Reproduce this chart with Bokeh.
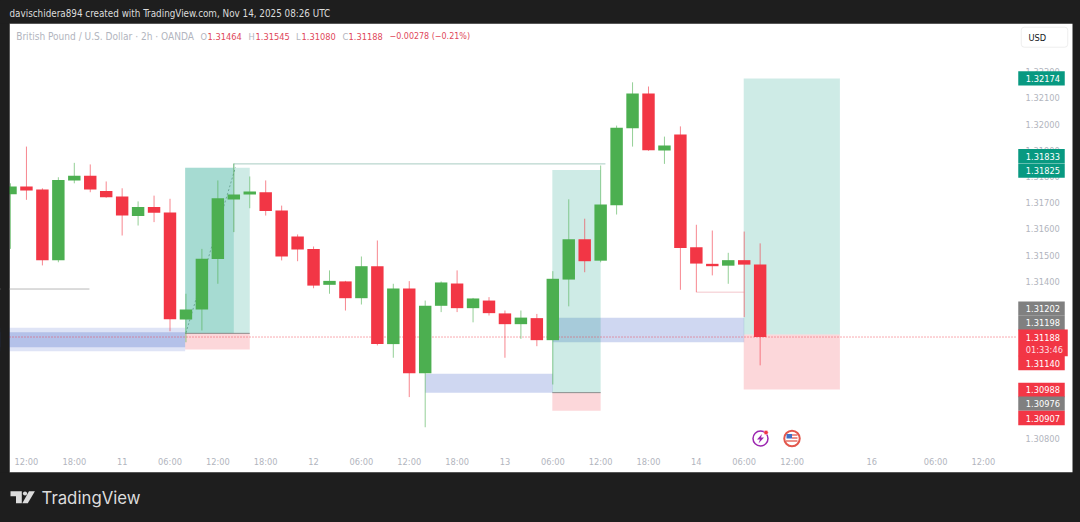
from bokeh.plotting import figure
from bokeh.embed import file_html
from bokeh.resources import INLINE
from bokeh.core.properties import value
from bokeh.models import ColumnDataSource, LinearAxis, FixedTicker, NumeralTickFormatter, Range1d

# ---- candle data (prices in 1e-5 units)
opens  = [131732,131762,131750,131481,131785,131803,131745,131724,131649,131684,131663,131255,131293,131485,131712,131731,131740,131670,131571,131524,131387,131400,131336,131458,131161,131373,131050,131307,131392,131298,131327,131278,131237,131260,131176,131407,131561,131479,131690,131984,132116,131899,131960,131530,131467,131460,131481,131464]
highs  = [131774,131914,131755,131797,131852,131846,131781,131755,131705,131727,131715,131353,131524,131785,131850,131800,131785,131689,131579,131533,131442,131402,131495,131556,131391,131401,131327,131400,131442,131337,131340,131289,131289,131276,131439,131713,131639,131842,131994,132159,132143,131952,131991,131616,131594,131509,131590,131545]
lows   = [131524,131711,131461,131473,131774,131740,131719,131575,131613,131626,131210,131168,131213,131391,131588,131679,131651,131480,131477,131374,131353,131289,131312,131156,131109,130959,130844,131283,131283,131244,131270,131109,131181,131153,131007,131305,131435,131473,131655,131914,131898,131848,131368,131359,131423,131391,131264,131080]
closes = [131762,131747,131481,131787,131803,131750,131721,131651,131684,131662,131256,131293,131486,131717,131731,131743,131668,131495,131522,131384,131402,131336,131458,131161,131373,131050,131307,131396,131298,131335,131279,131237,131262,131176,131410,131561,131477,131693,131986,132116,131900,131918,131527,131468,131458,131481,131464,131188]

# ---- trade boxes: start bar, end bar, prices
green_boxes = [(10.95, 14, 1.31833, 1.31202), (10.95, 15, 1.31833, 1.31202), (33.97, 37, 1.31825, 1.30976), (45.97, 52, 1.32174, 1.31198)]
red_boxes   = [(10.95, 15, 1.31202, 1.31140), (33.97, 37, 1.30976, 1.30907), (45.97, 52, 1.31198, 1.30988)]
blue_zones  = [(-1, 10.95, 1.31223, 1.31134, 0.16), (-1, 10.95, 1.31206, 1.31149, 0.25), (26, 34, 1.31048, 1.30976, 0.24), (34, 46, 1.31261, 1.31168, 0.24)]
last_price = 1.31188

# ---- axes
price_ticks = [1.322, 1.321, 1.320, 1.319, 1.318, 1.317, 1.316, 1.315, 1.314, 1.308]
time_pos    = [1, 4, 7, 10, 13, 16, 19, 22, 25, 28, 31, 34, 37, 40, 43, 46, 49, 54, 58, 61]
time_labels = ["12:00","18:00","11","06:00","12:00","18:00","12","06:00","12:00","18:00","13","06:00","12:00","18:00","14","06:00","12:00","16","06:00","12:00"]

# ---- price flags on the axis
flag_labels = ["1.32174","1.31833","1.31825","1.31202","1.31198","1.31140","1.30988","1.30976","1.30907"]
flag_kinds  = ["g","g","g","n","n","r","r","n","r"]
flag_shift  = [0, -11.8, 0.6, -24.8, -11.4, 13.4, 0.5, 10.9, 7.3]   # px nudges that keep flags apart

GREEN, RED, GREY, TEAL, BLUE = "#4CAF50", "#F23645", "#808080", "#089981", "#3557c4"
DARK = "#1e1e1e"
AXIS_TXT = "#b2b5be"
FONT = "DejaVu Sans Condensed"
FS = "9.2px"

BAR_PX, BAR0_PX = 15.95, 10.0
PX_PER_PRICE = 26230.0
def X(px): return (px - BAR0_PX) / BAR_PX
def Y(py): return 1.32100 - (py - 97.3) / PX_PER_PRICE

p = figure(width=1080, height=522, output_backend="svg", toolbar_location=None,
           x_range=Range1d(X(0), X(1080)), y_range=Range1d(Y(522), Y(0)),
           x_axis_location=None, y_axis_location=None, tools="",
           min_border_left=0, min_border_right=0, min_border_top=0, min_border_bottom=0,
           background_fill_color=DARK, border_fill_color=DARK)
p.outline_line_color = None
p.grid.visible = False

# white chart pane
r = p.quad(left=[X(9)], right=[X(1072)], top=[Y(23.3)], bottom=[Y(471.7)], fill_color="white", line_color=None)
r.level = "underlay"

# axes
xa = LinearAxis(ticker=FixedTicker(ticks=time_pos),
                major_label_overrides=dict(zip(time_pos, time_labels)),
                fixed_location=Y(454.5), axis_line_color=None, major_tick_line_color=None,
                minor_tick_line_color=None, major_tick_out=0, major_label_standoff=1,
                major_label_text_color=AXIS_TXT, major_label_text_font=FONT,
                major_label_text_font_size=FS)
p.add_layout(xa, "below")
ya = LinearAxis(ticker=FixedTicker(ticks=price_ticks), formatter=NumeralTickFormatter(format="0.00000"),
                fixed_location=X(1024), axis_line_color=None, major_tick_line_color=None,
                minor_tick_line_color=None, major_tick_out=0, major_label_standoff=1,
                major_label_text_color=AXIS_TXT, major_label_text_font=FONT,
                major_label_text_font_size=FS)
p.add_layout(ya, "right")

# zones
for a, b, t, bt, al in blue_zones:
    p.quad(left=[a], right=[b], top=[t], bottom=[bt], fill_color=BLUE, fill_alpha=al, line_color=None)
for a, b, t, bt in green_boxes:
    p.quad(left=[a], right=[b], top=[t], bottom=[bt], fill_color=TEAL, fill_alpha=0.2, line_color=None)
for a, b, t, bt in red_boxes:
    p.quad(left=[a], right=[b], top=[t], bottom=[bt], fill_color=RED, fill_alpha=0.2, line_color=None)
for a, b, pr in [(10.95, 15, 1.31202), (33.97, 37, 1.30976)]:
    p.line([a, b], [pr, pr], line_color="#777777", line_width=1, line_alpha=0.8)

# drawing lines
p.line([14, 14, 37.3], [1.31588, 1.31848, 1.31848], line_color="#a9cdc2", line_width=1)
p.line([-1, 4.95], [1.31371, 1.31371], line_color="#b8b8b8", line_width=1)
p.line([43, 46], [1.31359, 1.31359], line_color="#f3c6cb", line_width=1)
p.line([11, 14.1], [1.31204, 1.31834], line_color="#6fa898", line_width=1, line_dash="2 2")

# last price
p.line([X(9), X(1016)], [last_price, last_price], line_color=RED, line_width=1, line_dash="1 2", line_alpha=0.85)

# candles
idx = list(range(len(opens)))
to_p = lambda a: [v / 1e5 for v in a]
o, h, l, c = to_p(opens), to_p(highs), to_p(lows), to_p(closes)
colors = [GREEN if cc >= oo else RED for oo, cc in zip(o, c)]
src = ColumnDataSource(dict(x=idx, top=[max(a, b) for a, b in zip(o, c)], bottom=[min(a, b) for a, b in zip(o, c)],
                            high=h, low=l, color=colors))
p.segment("x", "high", "x", "low", source=src, line_color="color", line_width=1, line_alpha=0.6)
p.vbar(x="x", top="top", bottom="bottom", width=0.78, source=src, fill_color="color", line_color=None)

# dark strip left of the pane (covers the first cut-off candle)
r = p.quad(left=[X(0)], right=[X(9)], top=[Y(23.3)], bottom=[Y(471.7)], fill_color=DARK, line_color=None)
r.level = "annotation"

# price flags
kind_col = {"g": TEAL, "r": RED, "n": GREY}
flag_y = [float(s) - d / PX_PER_PRICE for s, d in zip(flag_labels, flag_shift)]
fsrc = ColumnDataSource(dict(x=[X(1041)] * len(flag_y), tx=[X(1025.3)] * len(flag_y), y=flag_y, label=flag_labels,
                             color=[kind_col[k] for k in flag_kinds]))
r = p.rect("x", "y", width=46.5, height=14.3, width_units="screen", height_units="screen", source=fsrc,
           fill_color="color", line_color=None)
r.level = "annotation"
r = p.text("tx", "y", text="label", source=fsrc, text_color="white", text_baseline="middle",
           text_font=value(FONT), text_font_size=FS)
r.level = "annotation"

# current price flag
r = p.rect([X(1042.5)], [Y(342.4)], width=49.5, height=26.7, width_units="screen", height_units="screen",
           fill_color=RED, line_color=None)
r.level = "annotation"
r = p.text([X(1025.3)], [Y(336.6)], text=["%.5f" % last_price], text_color="white", text_baseline="middle",
           text_font=value(FONT), text_font_size=FS)
r.level = "annotation"
r = p.text([X(1025.3)], [Y(349.4)], text=["01:33:46"], text_color="#ffdfe2", text_baseline="middle",
           text_font=value(FONT), text_font_size=FS)
r.level = "annotation"

# USD button
p.rect([X(1044)], [Y(36.7)], width=46.5, height=20, width_units="screen", height_units="screen",
       fill_color="white", line_color="#eeeeee", border_radius=3)
p.text([X(1028)], [Y(36.7)], text=["USD"], text_color="#131722", text_baseline="middle",
       text_font=value(FONT), text_font_size=FS)

# legend line
legend = [(15.7, "British Pound / U.S. Dollar · 2h · OANDA", AXIS_TXT, "10.05px"), (200, "O", AXIS_TXT, FS), (207, "1.31464", "#e0485a", FS),
          (248, "H", AXIS_TXT, FS), (255, "1.31545", "#e0485a", FS), (295.5, "L", AXIS_TXT, FS), (301, "1.31080", "#e0485a", FS),
          (342, "C", AXIS_TXT, FS), (348, "1.31188", "#e0485a", FS), (389, "−0.00278 (−0.21%)", "#e0485a", "8.9px")]
for px, t, col, sz in legend:
    p.text([X(px)], [Y(35.5)], text=[t], text_color=col, text_baseline="middle",
           text_font=value(FONT), text_font_size=sz)

# event icons
def circ(cx, cy, d, fill, line, lw=1.5):
    p.scatter([X(cx)], [Y(cy)], size=d, fill_color=fill, line_color=line, line_width=lw)
circ(760, 438, 15, "white", "#9c27b0")
p.patch([X(v) for v in (761.5, 756.5, 759.5, 758, 763.5, 760.5)], [Y(v) for v in (433.5, 439, 439, 443, 437, 437)],
        fill_color="#9c27b0", line_color=None)
circ(765.5, 432, 4.5, "#f23645", "white", 0.5)
circ(791.5, 438, 15.5, "white", "#e2574c", 2)
p.quad(left=[X(786)], right=[X(791.5)], top=[Y(433.5)], bottom=[Y(438)], fill_color="#3f6fc4", line_color=None)
for yy in (434.5, 437.5, 440.5):
    p.line([X(791.5 if yy < 438 else 785.5), X(797)], [Y(yy), Y(yy)], line_color="#e2574c", line_width=1.3)

# header and logo on the dark frame
p.text([X(9)], [Y(13)], text=["davischidera894 created with TradingView.com, Nov 14, 2025 08:26 UTC"], text_color="#dcdcdc",
       text_baseline="middle", text_font=value(FONT), text_font_size="9.8px")
p.text([X(41)], [Y(497)], text=["TradingView"], text_color="#dcdcdc", text_baseline="middle",
       text_font=value("Inter"), text_font_size="16.8px")
def poly(pts, col="#dcdcdc"):
    p.patch([X(a) for a, b in pts], [Y(b) for a, b in pts], fill_color=col, line_color=None)
poly([(10, 490.8), (21.3, 490.8), (21.3, 502.8), (15.5, 502.8), (15.5, 495.8), (10, 495.8)])
p.scatter([X(24.5)], [Y(493)], size=4.2, fill_color="#dcdcdc", line_color=None)
poly([(28.5, 490.8), (34.4, 490.8), (27.3, 502.8), (21.8, 502.8)])

html = file_html(p, INLINE)
html = html.replace("<head>", "<head><style>html,body{background:%s;margin:0;padding:0;overflow:hidden}</style>" % DARK, 1)
open("out.html", "w").write(html)
